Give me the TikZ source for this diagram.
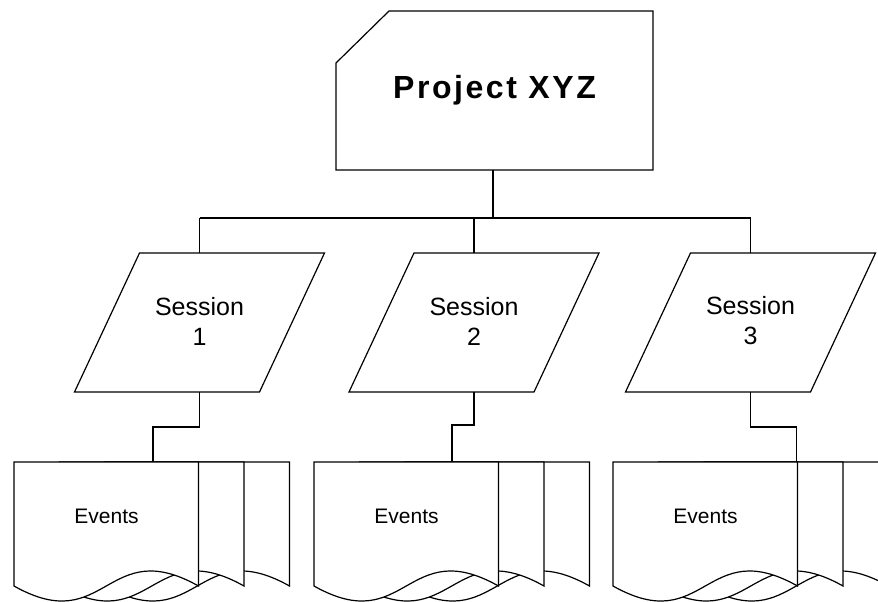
\documentclass[tikz,border=0pt]{standalone}
\usepackage{fontspec}
\setmainfont{Liberation Sans}
\newfontfamily\projfont[LetterSpace=8]{Liberation Sans}
\begin{document}
\begin{tikzpicture}[x=1pt,y=-1pt]
\tikzset{
  shapeline/.style={draw=black, fill=white, line width=1.2pt, line join=miter},
  conn/.style={draw=black, line width=1.2pt},
  sesstext/.style={font=\fontsize{25}{30}\selectfont, align=center, inner sep=0pt},
  evtext/.style={font=\fontsize{21}{25}\selectfont, inner sep=0pt},
  projtext/.style={font=\projfont\bfseries\fontsize{32}{38}\selectfont, inner sep=0pt},
}
\clip (0,0) rectangle (878,602);
\fill[white] (0,0) rectangle (878,602);

% ---- Project box
\path[shapeline] (336,63) -- (389,11) -- (653,11) -- (653,170) -- (336,170) -- cycle;
\node[projtext] (proj) at (494.5,90) {Project XYZ};
\coordinate (projb) at (493,170);
\coordinate (bus) at (493,218);

% ---- Sessions
\newcommand\sessshape[3]{%
  \path[shapeline] (#2-60,253) -- (#2+125,253) -- (#2+60,392) -- (#2-125,392) -- cycle;
  \node[sesstext] (#1) at (#2,321) {Session\\#3};
  \coordinate (#1t) at (#2,253);
  \coordinate (#1b) at (#2,392);
}
\sessshape{sa}{199.5}{1}
\sessshape{sb}{474}{2}
\sessshape{sc}{750.5}{3}

% ---- Connectors top
\draw[conn] (projb) -- (bus);
\draw[conn] (sat |- bus) -- (sct |- bus);
\draw[conn] (sat |- bus) -- (sat);
\draw[conn] (sbt |- bus) -- (sbt);
\draw[conn] (sct |- bus) -- (sct);

% ---- Event stacks
\newcommand\evpage[1]{%
  \path[shapeline] (#1,586) -- (#1,462) -- (#1+184.5,462) -- (#1+184.5,586)
    .. controls (#1+92.25,534) and (#1+92.25,638) .. (#1,586) -- cycle;
}
\newcommand\evstack[3]{%
  \evpage{#2+91}
  \evpage{#2+45.5}
  \evpage{#2}
  \node[evtext] (#1) at (#2+92.5,516) {Events};
  \coordinate (#1t) at (#3,462);
}
\evstack{ea}{14}{153}
\evstack{eb}{314}{452}
\evstack{ec}{613}{796.5}

% ---- Connectors bottom
\draw[conn] (sab) -- ++(0,35) -| (eat);
\draw[conn] (sbb) -- ++(0,33) -| (ebt);
\draw[conn] (scb) -- ++(0,35) -| (ect);
\end{tikzpicture}
\end{document}
